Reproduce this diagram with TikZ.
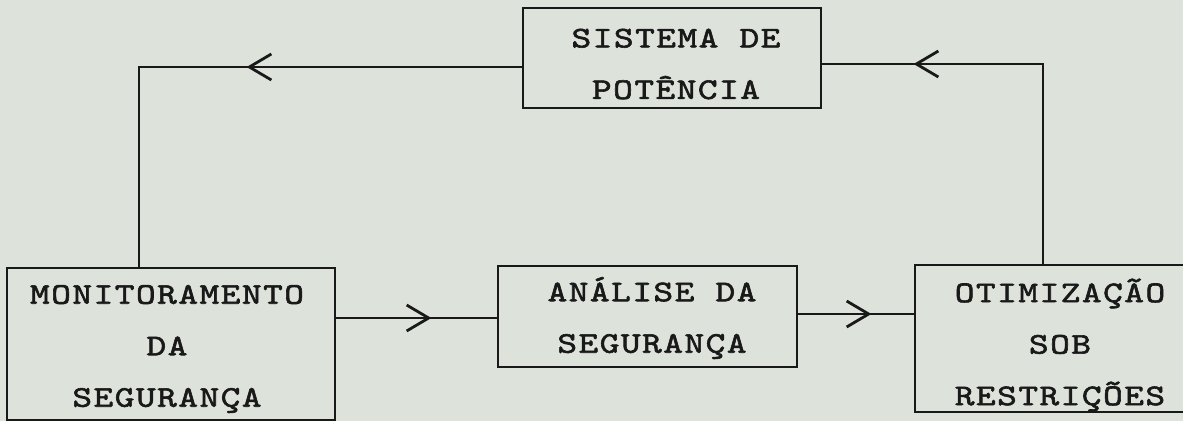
\documentclass[tikz,border=0pt]{standalone}
\usepackage{fontspec}
\newfontfamily\tw{lmmono10-regular.otf}[LetterSpace=5,FakeStretch=1.25,FakeBold=2]
\usetikzlibrary{arrows.meta,decorations.markings}
\definecolor{paper}{RGB}{221,226,219}
\definecolor{ink}{RGB}{25,25,25}
\tikzset{
  blk/.style={draw=ink, line width=2.8pt, inner sep=0pt},
  lbl/.style={align=center, inner sep=0pt, text=ink,
    font=\tw\fontsize{30}{51.5}\selectfont},
  conn/.style={draw=ink, line width=2.8pt},
  barb/.style={postaction={decorate}, decoration={markings,
    mark=at position #1 with {\arrow[ink]{Straight Barb[length=22pt,width=26pt]}}}},
}
\begin{document}
\begin{tikzpicture}[x=1pt,y=-1pt]
\fill[paper] (0,0) rectangle (1183,421);
\useasboundingbox (0,0) rectangle (1183,421);
\clip (0,0) rectangle (1183,421);
\node[blk, minimum width=298pt, minimum height=100pt] (top) at (672,58) {};
\node[blk, minimum width=328pt, minimum height=152pt] (mon) at (171,344) {};
\node[blk, minimum width=299pt, minimum height=101pt] (ana) at (647.5,316.5) {};
\node[blk, minimum width=286pt, minimum height=147pt] (otim) at (1058,338.5) {};
\node[lbl] (topT) at (676,64) {SISTEMA DE\\POTÊNCIA};
\node[lbl] (monT) at (167,349) {MONITORAMENTO\\DA\\SEGURANÇA};
\node[lbl] (anaT) at (652,318) {ANÁLISE DA\\SEGURANÇA};
\node[lbl] (otimT) at (1060,345) {OTIMIZAÇÃO\\SOB\\RESTRIÇÕES};
\coordinate (lc) at (139,67);
\coordinate (l2) at (0,318);
\coordinate (l3) at (0,314);
\coordinate (rc) at (1043,64);
\draw[conn, barb=275pt] (top.west |- lc) -- (lc) -- (lc |- mon.north);
\draw[conn, barb=95pt] (mon.east |- l2) -- (ana.west |- l2);
\draw[conn, barb=73pt] (ana.east |- l3) -- (otim.west |- l3);
\draw[conn, barb=329pt] (rc |- otim.north) -- (rc) -- (top.east |- rc);
\end{tikzpicture}
\end{document}
